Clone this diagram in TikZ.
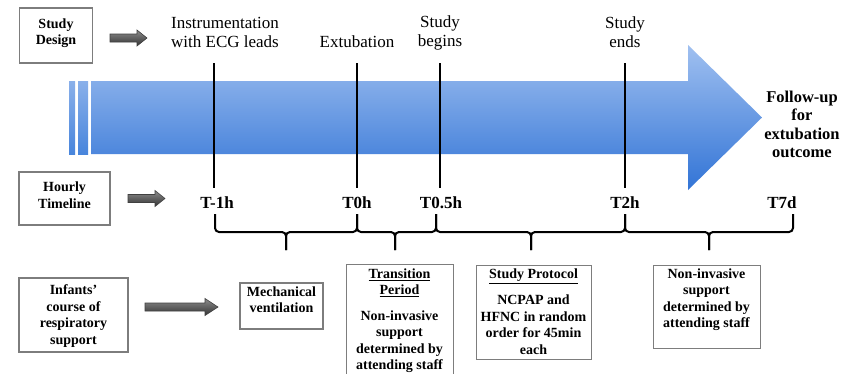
\documentclass[tikz,border=0pt]{standalone}
\usepackage{fontspec}
\setmainfont{Liberation Serif}
\definecolor{bluetop}{RGB}{160,192,240}
\definecolor{bluebot}{RGB}{50,116,214}
\definecolor{bodytop}{RGB}{138,176,234}
\definecolor{bodybot}{RGB}{72,133,220}
\definecolor{boxline}{RGB}{125,125,125}
\tikzset{
  box/.style={draw=boxline, line width=1.2pt, fill=white, inner sep=0pt},
  boxtext/.style={font=\fontsize{14}{16.5}\selectfont\bfseries, align=center, inner sep=0pt},
  toplabel/.style={font=\fontsize{17}{19}\selectfont, align=center, inner sep=0pt},
  tlabel/.style={font=\fontsize{17}{19}\selectfont\bfseries, inner sep=0pt},
  fulabel/.style={font=\fontsize{16.5}{18.5}\selectfont\bfseries, align=center, inner sep=0pt},
  greyarrow/.style={draw=black!75, line width=0.6pt, top color=black!45, bottom color=black!80},
  marker/.style={line width=2.6pt, black},
  bracestyle/.style={line width=2pt, black, rounded corners=4pt},
}
\newcommand\mybrace[3]{%
  \draw[bracestyle] (#1,214) |- (#3,232) -- (#3,250);
  \draw[bracestyle] (#2,214) |- (#3,232) -- (#3,250);}
\begin{document}
\begin{tikzpicture}[x=1pt,y=-1pt]
\useasboundingbox (0,0) rectangle (856,373);
\fill[white] (0,0) rectangle (856,373);

% big blue arrow
\shade[top color=bluetop, bottom color=bluebot]
  (91,81) -- (688,81) -- (688,45) -- (762,117.5) -- (688,190) -- (688,154) -- (91,154) -- cycle;
\shade[top color=bodytop, bottom color=bodybot] (69,81) rectangle (75,154);
\shade[top color=bodytop, bottom color=bodybot] (78,81) rectangle (88,154);

% left boxes
\node[box, minimum width=73, minimum height=55] (sd) at (56,35.5) {};
\node[boxtext] (sdt) at (56,33) {Study\\Design};
\node[box, minimum width=91, minimum height=53] (ht) at (64.5,198.5) {};
\node[boxtext] (htt) at (64.5,195) {Hourly\\Timeline};
\node[box, minimum width=109, minimum height=74] (inf) at (73.5,315) {};
\node[boxtext] (inft) at (73.5,316) {Infants'\\course of\\respiratory\\support};

% grey arrows
\draw[greyarrow] (110,34) -- (137,34) -- (137,30) -- (147,38) -- (137,46) -- (137,42) -- (110,42) -- cycle;
\draw[greyarrow] (128,194.5) -- (155,194.5) -- (155,190.5) -- (165,198.5) -- (155,206.5) -- (155,202.5) -- (128,202.5) -- cycle;
\draw[greyarrow] (145,303) -- (205,303) -- (205,298.5) -- (218,307) -- (205,315.5) -- (205,311) -- (145,311) -- cycle;

% top labels
\node[toplabel] (ins) at (225,32.5) {Instrumentation\\with ECG leads};
\node[toplabel] (ext) at (357,42) {Extubation};
\node[toplabel] (beg) at (440,32.5) {Study\\begins};
\node[toplabel] (end) at (625,32.5) {Study\\ends};
\node[fulabel] (fu) at (802,124.5) {Follow-up\\for\\extubation\\outcome};

% hourly labels
\node[tlabel] (tm1) at (217,203) {T-1h};
\node[tlabel] (t0) at (357,203) {T0h};
\node[tlabel] (t05) at (441,203) {T0.5h};
\node[tlabel] (t2) at (625,203) {T2h};
\node[tlabel] (t7) at (782,203) {T7d};

% vertical markers
\coordinate (m1a) at (214,63); \coordinate (m1b) at (214,188);
\coordinate (m2a) at (357,63); \coordinate (m2b) at (357,188);
\coordinate (m3a) at (440,63); \coordinate (m3b) at (440,188);
\coordinate (m4a) at (625,63); \coordinate (m4b) at (625,188);
\draw[marker] (m1a) -- (m1b);
\draw[marker] (m2a) -- (m2b);
\draw[marker] (m3a) -- (m3b);
\draw[marker] (m4a) -- (m4b);

% braces
\mybrace{215}{357}{286}
\mybrace{357}{436}{395}
\mybrace{436}{625}{531}
\mybrace{625}{793}{709}

% bottom boxes
\node[box, minimum width=83, minimum height=46] (mv) at (281.5,306) {};
\node[boxtext, anchor=north] (mvt) at (281.5,286.5) {Mechanical\\ventilation};

\node[box, minimum width=107, minimum height=130, anchor=north west] (tr) at (346,264) {};
\node[boxtext, anchor=north] (trt) at (399.5,268.5)
  {\underline{Transition}\\\underline{Period}\\[9pt]Non-invasive\\support\\determined by\\attending staff};

\node[box, minimum width=115, minimum height=94, anchor=north west] (sp) at (476,265) {};
\node[boxtext, anchor=north] (spt) at (533.5,268.5)
  {\underline{Study Protocol}\\[10pt]NCPAP and\\HFNC in random\\order for 45min\\each};

\node[box, minimum width=107, minimum height=83, anchor=north west] (ni) at (653,265) {};
\node[boxtext, anchor=north] (nit) at (706.5,268.5)
  {Non-invasive\\support\\determined by\\attending staff};
\end{tikzpicture}
\end{document}
